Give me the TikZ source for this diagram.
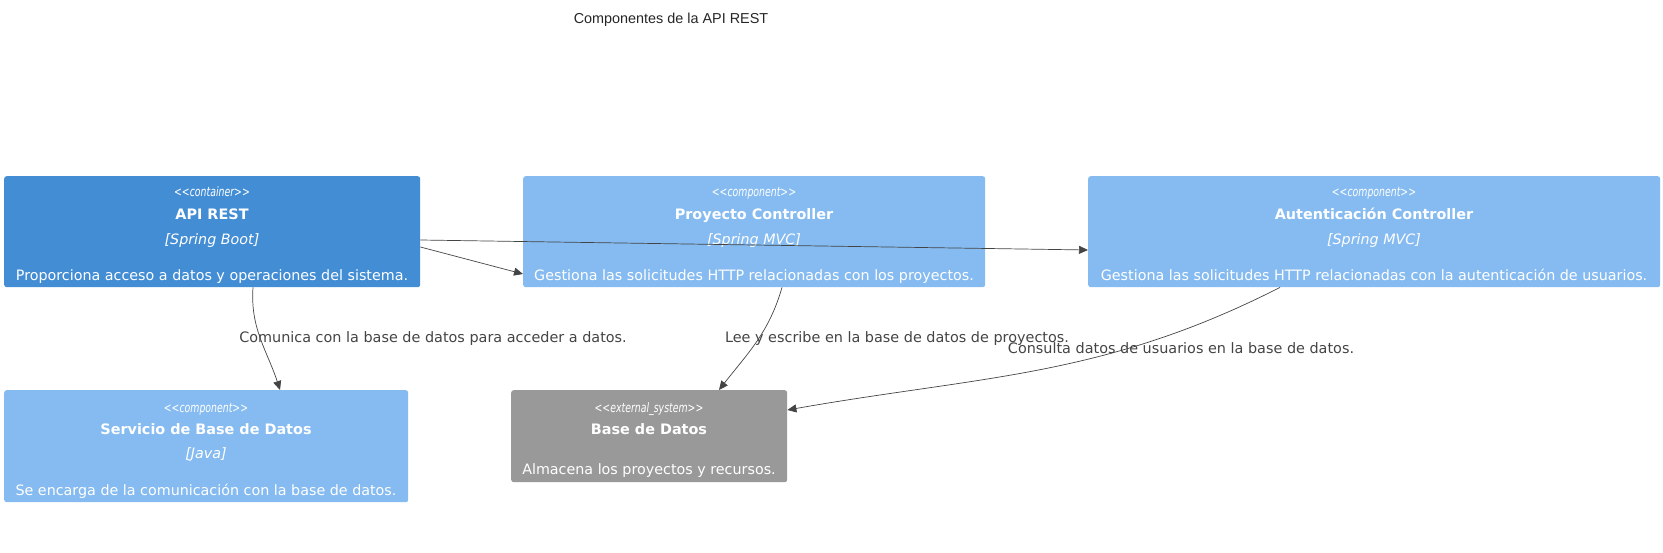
\documentclass[tikz,border=0pt]{standalone}
\usepackage{fontspec}
\setmainfont{DejaVu Sans}
\newfontfamily\titlefont{Liberation Sans}
\newfontfamily\stereofont{DejaVu Sans}[FakeStretch=0.72]
\usepackage{tikz}
\usetikzlibrary{arrows.meta,calc}

\definecolor{containerblue}{HTML}{438DD5}
\definecolor{componentblue}{HTML}{85BBF0}
\definecolor{extgray}{HTML}{999999}
\definecolor{linegray}{HTML}{444444}
\definecolor{labelgray}{HTML}{444444}

\begin{document}
\begin{tikzpicture}[x=1pt,y=-1pt,
	>={Triangle[length=9pt,width=8pt]},
	cbox/.style={rectangle,rounded corners=2.5pt,draw=none,anchor=north west,inner sep=0pt},
	stereo/.style={text=white,inner sep=0pt,anchor=base,font=\stereofont\itshape\fontsize{13}{15}\selectfont},
	title/.style={text=white,inner sep=0pt,anchor=base,font=\bfseries\fontsize{14.4}{17}\selectfont},
	tech/.style={text=white,inner sep=0pt,anchor=base,font=\itshape\fontsize{14.3}{17}\selectfont},
	desc/.style={text=white,inner sep=0pt,anchor=base,font=\fontsize{14.3}{17}\selectfont},
	rel/.style={->,draw=linegray,line width=0.7pt},
	rellabel/.style={text=labelgray,inner sep=0pt,anchor=base,font=\fontsize{14.4}{17}\selectfont}]

	\useasboundingbox (0,0) rectangle (1663,553);

	\node[inner sep=0pt,anchor=base,text=black!85,font=\titlefont\fontsize{14.4}{17}\selectfont] (titulo) at (671,24) {Componentes de la API REST};

	% contenedor
	\node[cbox,fill=containerblue,minimum width=416,minimum height=111] (api) at (4,176) {};
	\node[stereo] (apiS) at (212,197) {\textless\textless container\textgreater\textgreater};
	\node[title]  (apiN) at (212,220) {API REST};
	\node[tech]   (apiT) at (212,244.5) {[Spring Boot]};
	\node[desc]   (apiD) at (212,280.5) {Proporciona acceso a datos y operaciones del sistema.};

	% componentes
	\node[cbox,fill=componentblue,minimum width=462,minimum height=111] (proy) at (523,176) {};
	\node[stereo] (proyS) at (754,197) {\textless\textless component\textgreater\textgreater};
	\node[title]  (proyN) at (754,220) {Proyecto Controller};
	\node[tech]   (proyT) at (754,244.5) {[Spring MVC]};
	\node[desc]   (proyD) at (754,280.5) {Gestiona las solicitudes HTTP relacionadas con los proyectos.};

	\node[cbox,fill=componentblue,minimum width=572,minimum height=111] (aut) at (1088,176) {};
	\node[stereo] (autS) at (1374,197) {\textless\textless component\textgreater\textgreater};
	\node[title]  (autN) at (1374,220) {Autenticación Controller};
	\node[tech]   (autT) at (1374,244.5) {[Spring MVC]};
	\node[desc]   (autD) at (1374,280.5) {Gestiona las solicitudes HTTP relacionadas con la autenticación de usuarios.};

	\node[cbox,fill=componentblue,minimum width=404,minimum height=112] (serv) at (4,390) {};
	\node[stereo] (servS) at (206,412) {\textless\textless component\textgreater\textgreater};
	\node[title]  (servN) at (206,434.5) {Servicio de Base de Datos};
	\node[tech]   (servT) at (206,458.5) {[Java]};
	\node[desc]   (servD) at (206,495.5) {Se encarga de la comunicación con la base de datos.};

	% sistema externo
	\node[cbox,fill=extgray,minimum width=276,minimum height=92] (bd) at (511,390) {};
	\node[stereo] (bdS) at (649,412) {\textless\textless external\_system\textgreater\textgreater};
	\node[title]  (bdN) at (649,434.5) {Base de Datos};
	\node[desc]   (bdD) at (649,474.5) {Almacena los proyectos y recursos.};

	% relaciones
	\draw[rel] ($(api.north east)+(0,71)$) -- ($(proy.north west)+(0,98)$);
	\draw[rel] ($(api.north east)+(0,64)$) -- ($(aut.north west)+(0,74)$);
	\draw[rel] ($(api.south west)+(249,0)$) to[out=-94,in=108] ($(serv.north west)+(276,0)$);
	\draw[rel] ($(proy.south west)+(259,0)$) to[out=-106,in=52] ($(bd.north west)+(208,0)$);
	\draw[rel] ($(aut.south west)+(192,0)$) to[out=-153,in=10] ($(bd.north east)+(0,20)$);

	\node[rellabel] (l1) at (433,343) {Comunica con la base de datos para acceder a datos.};
	\node[rellabel] (l2) at (897,343) {Lee y escribe en la base de datos de proyectos.};
	\node[rellabel] (l3) at (1181,353.5) {Consulta datos de usuarios en la base de datos.};

\end{tikzpicture}
\end{document}
